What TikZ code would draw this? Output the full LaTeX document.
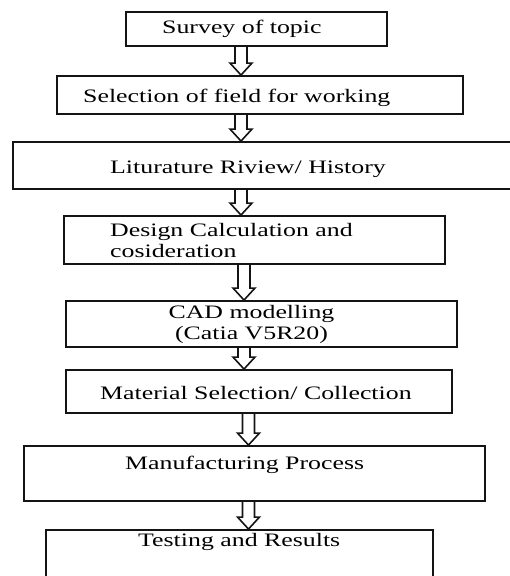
\documentclass[tikz,border=0pt]{standalone}
\usepackage{fontspec}
\usepackage{tikz}
\usetikzlibrary{calc, positioning}
\newfontfamily\flowfont{Liberation Serif}[FakeStretch=1.36]
\definecolor{mydark}{RGB}{20,20,20}
\tikzset{
  stepbox/.style={rectangle, draw=mydark, inner sep=0pt, line width=1.9pt},
  steptext/.style={font=\flowfont\fontsize{19}{21.5}\selectfont,
    inner sep=0pt, anchor=base west, text=black},
  hollow/.style={draw=mydark, line width=1.6pt, line join=miter,
    to path={let \p1=(\tikztostart), \p2=(\tikztotarget) in
      (\x1-6pt,\y1) -- (\x1-6pt,\y2+12pt) -- (\x1-11pt,\y2+12pt)
      -- (\x1,\y2) -- (\x1+11pt,\y2+12pt) -- (\x1+6pt,\y2+12pt)
      -- (\x1+6pt,\y1)}}
}
\begin{document}
\begin{tikzpicture}[x=1pt, y=-1pt]
  \useasboundingbox (0,0) rectangle (510,576);

  % ── Boxes, top to bottom ────────────────────────────────────────────────
  \node[stepbox, minimum width=261pt, minimum height=34pt] (survey)   at (256.5,29)  {};
  \node[stepbox, minimum width=406pt, minimum height=38pt] (field)    at (260,95)    {};
  \node[stepbox, minimum width=499pt, minimum height=47pt] (review)   at (262.5,165.5) {};
  \node[stepbox, minimum width=381pt, minimum height=48pt] (design)   at (254.5,240) {};
  \node[stepbox, minimum width=391pt, minimum height=46pt] (cad)      at (261.5,324) {};
  \node[stepbox, minimum width=386pt, minimum height=43pt] (material) at (259,391.5) {};
  \node[stepbox, minimum width=461pt, minimum height=55pt] (manuf)    at (254.5,473.5) {};
  \node[stepbox, minimum width=387pt, minimum height=60pt] (testing)  at (239.5,560) {};

  % ── Box texts ───────────────────────────────────────────────────────────
  \node[steptext] (survey-t)   at (162,33)  {Survey of topic};
  \node[steptext] (field-t)    at (83,102)  {Selection of field for working};
  \node[steptext] (review-t)   at (110,173) {Liturature Riview/ History};
  \node[steptext, align=left] (design-t) at (110,257.5)
    {Design Calculation and\\cosideration};
  \node[steptext, anchor=base, align=center] (cad-t) at (251.5,339.5)
    {CAD modelling\\(Catia V5R20)};
  \node[steptext] (material-t) at (100,399) {Material Selection/ Collection};
  \node[steptext] (manuf-t)    at (125,469) {Manufacturing Process};
  \node[steptext] (testing-t)  at (138,546) {Testing and Results};

  % ── Hollow arrows ───────────────────────────────────────────────────────
  \path[hollow] (241,0 |- survey.south)   to (field.north);
  \path[hollow] (241,0 |- field.south)    to (review.north);
  \path[hollow] (241,0 |- review.south)   to (design.north);
  \path[hollow] (244,0 |- design.south)   to (cad.north);
  \path[hollow] (244,0 |- cad.south)      to (material.north);
  \path[hollow] (248.5,0 |- material.south) to (manuf.north);
  \path[hollow] (248.5,0 |- manuf.south)  to (testing.north);
\end{tikzpicture}
\end{document}
